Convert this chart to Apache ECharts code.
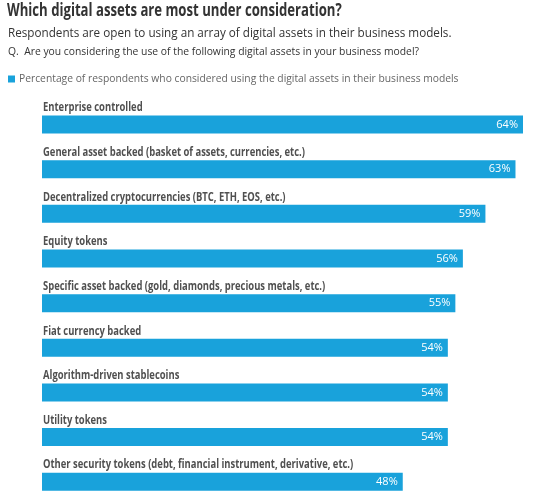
<!DOCTYPE html>
<html><head><meta charset="utf-8">
<script src="https://cdn.jsdelivr.net/npm/echarts@6/dist/echarts.min.js"></script>
<style>html,body{margin:0;padding:0;background:#fff}#c{width:540px;height:504px}</style>
</head><body><div id="c"></div>
<script>
var categories = [
  'Enterprise controlled',
  'General asset backed (basket of assets, currencies, etc.)',
  'Decentralized cryptocurrencies (BTC, ETH, EOS, etc.)',
  'Equity tokens',
  'Specific asset backed (gold, diamonds, precious metals, etc.)',
  'Fiat currency backed',
  'Algorithm-driven stablecoins',
  'Utility tokens',
  'Other security tokens (debt, financial instrument, derivative, etc.)'
];
var values = [64, 63, 59, 56, 55, 54, 54, 54, 48];
var seriesName = 'Percentage of respondents who considered using the digital assets in their business models';
var titleText = 'Which digital assets are most under consideration?';
var subText = 'Respondents are open to using an array of digital assets in their business models.';
var questionText = 'Q.  Are you considering the use of the following digital assets in your business model?';

var chart = echarts.init(document.getElementById('c'));
var sans = '"Open Sans", sans-serif';
chart.setOption({
  animation: false,
  backgroundColor: '#fff',
  graphic: [{
    type: 'text', left: 7, top: 2, scaleX: 0.73,
    style: {text: titleText, font: 'bold 18px "Open Sans", sans-serif', fill: '#333'}
  }],
  title: [
    {text: subText, left: 8, top: 28, padding: 0, textStyle: {fontFamily: sans, fontWeight: 'normal', fontSize: 11.7, color: '#333'}},
    {text: questionText, left: 8, top: 47, padding: 0, textStyle: {fontFamily: sans, fontWeight: 'normal', fontSize: 10.35, color: '#333'}}
  ],
  legend: {
    left: 8, top: 74, padding: 0, icon: 'rect', itemWidth: 7, itemHeight: 7, itemGap: 5,
    textStyle: {fontFamily: sans, fontSize: 10.3, color: '#666', padding: [0,0,0,-1]},
    data: [seriesName]
  },
  grid: {left: 42, right: 17, top: 102.25, height: 409.5, containLabel: false},
  xAxis: {type: 'value', min: 0, max: 64, show: false},
  yAxis: {
    type: 'category', data: categories, inverse: true,
    axisLine: {show: false}, axisTick: {show: false}, axisLabel: {show: false}
  },
  series: [{
    name: seriesName, type: 'bar', data: values, barWidth: 18,
    itemStyle: {color: '#19a2db'},
    label: {show: true, position: 'insideRight', distance: 5, formatter: '{c}%',
      fontFamily: sans, fontSize: 11, color: '#fff'}
  }, {
    name: 'labels', type: 'custom', silent: true, z: 5,
    data: categories.map(function (c, i) { return [0, i]; }),
    encode: {x: 0, y: 1},
    renderItem: function (params, api) {
      var p = api.coord([0, api.value(1)]);
      return {
        type: 'text', x: p[0] + 1, y: p[1] - 10.5, scaleX: 0.82,
        style: {
          text: categories[params.dataIndex],
          font: 'bold 11.5px "Open Sans", sans-serif',
          fill: '#505050', textAlign: 'left', textVerticalAlign: 'bottom'
        }
      };
    }
  }]
});
</script></body></html>
